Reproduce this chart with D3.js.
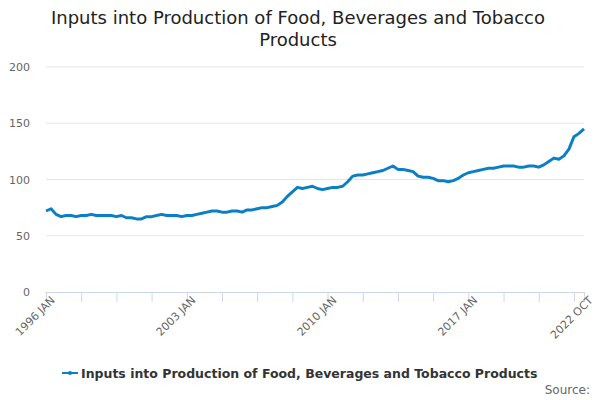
<!DOCTYPE html>
<html>
<head>
<meta charset="utf-8">
<script src="https://cdn.jsdelivr.net/npm/d3@7"></script>
<style>
  body { margin: 0; background: #fff; }
  text { font-family: "DejaVu Sans", sans-serif; }
</style>
</head>
<body>
<div id="chart"></div>
<script>
// quarterly readings (Jan, Apr, Jul, Oct), 1996 JAN .. 2022 OCT
const startYear = 1996;
const values = [
  72, 74, 69, 67,   68, 68, 67, 68,   68, 69, 68, 68,   68, 68, 67, 68,
  66, 66, 65, 65,   67, 67, 68, 69,   68, 68, 68, 67,   68, 68, 69, 70,
  71, 72, 72, 71,   71, 72, 72, 71,   73, 73, 74, 75,   75, 76, 77, 80,
  85, 89, 93, 92,   93, 94, 92, 91,   92, 93, 93, 94,   98, 103, 104, 104,
  105, 106, 107, 108, 110, 112, 109, 109, 108, 107, 103, 102, 102, 101, 99, 99,
  98, 99, 101, 104, 106, 107, 108, 109, 110, 110, 111, 112, 112, 112, 111, 111,
  112, 112, 111, 113, 116, 119, 118, 121, 127, 138, 141, 145
];
const yTicks = [0, 50, 100, 150, 200];
const tickLabels = { 0: "1996 JAN", 84: "2003 JAN", 168: "2010 JAN", 252: "2017 JAN", 321: "2022 OCT" };
const seriesName = "Inputs into Production of Food, Beverages and Tobacco Products";

const data = values.map((v, i) => ({ m: i * 3, v: v }));
const W = 600, H = 400;
const margin = { left: 46, right: 16, top: 67, bottom: 108 };

const svg = d3.select('#chart').append('svg').attr('width', W).attr('height', H);

const x = d3.scaleLinear().domain([0, 321]).range([margin.left, W - margin.right]);
const y = d3.scaleLinear().domain([0, 200]).range([H - margin.bottom, margin.top]);

svg.append('text').attr('x', 298).attr('y', 24).attr('text-anchor', 'middle')
  .attr('font-size', 18).attr('fill', '#222').text('Inputs into Production of Food, Beverages and Tobacco');
svg.append('text').attr('x', 298).attr('y', 46).attr('text-anchor', 'middle')
  .attr('font-size', 18).attr('fill', '#222').text('Products');

// grid + y labels
svg.selectAll('.grid').data(yTicks.filter(d => d > 0)).enter().append('line')
  .attr('x1', margin.left).attr('x2', W - margin.right)
  .attr('y1', d => y(d)).attr('y2', d => y(d))
  .attr('stroke', '#e6e6e6');
svg.selectAll('.ylab').data(yTicks).enter().append('text')
  .attr('x', 30).attr('y', d => y(d) + 4).attr('text-anchor', 'end')
  .attr('font-size', 11).attr('fill', '#666').text(d => d);

// x axis
const xTicks = [0, 21, 42, 63, 84, 105, 126, 147, 168, 189, 210, 231, 252, 273, 294, 315, 321];
const xAxis = svg.append('g').attr('transform', `translate(0,${y(0)})`)
  .call(d3.axisBottom(x).tickValues(xTicks).tickSize(10).tickFormat(d => tickLabels[d] || ''));
xAxis.select('.domain').attr('stroke', '#ccd6eb');
xAxis.selectAll('.tick line').attr('stroke', '#ccd6eb');
xAxis.selectAll('.tick text')
  .attr('font-size', 11).attr('fill', '#666').attr('font-family', '"DejaVu Sans", sans-serif')
  .attr('text-anchor', 'end').attr('x', 3).attr('y', 0).attr('dy', '0.9em')
  .attr('transform', 'translate(0,4) rotate(-45)');

// line
const line = d3.line().x(d => x(d.m)).y(d => y(d.v));
svg.append('path').datum(data).attr('d', line)
  .attr('fill', 'none').attr('stroke', '#0a7fc4').attr('stroke-width', 3).attr('stroke-linejoin', 'round');

// legend
const lg = svg.append('g').attr('transform', 'translate(62,373)');
lg.append('line').attr('x1', 0).attr('x2', 16).attr('y1', 0).attr('y2', 0)
  .attr('stroke', '#0a7fc4').attr('stroke-width', 2);
lg.append('circle').attr('cx', 8).attr('cy', 0).attr('r', 2).attr('fill', '#0a7fc4');
lg.append('text').attr('x', 19).attr('y', 5).attr('font-size', 12.5).attr('font-weight', 'bold')
  .attr('fill', '#333').text(seriesName);

svg.append('text').attr('x', 590).attr('y', 394).attr('text-anchor', 'end')
  .attr('font-size', 12).attr('fill', '#666').text('Source:');
</script>
</body>
</html>
